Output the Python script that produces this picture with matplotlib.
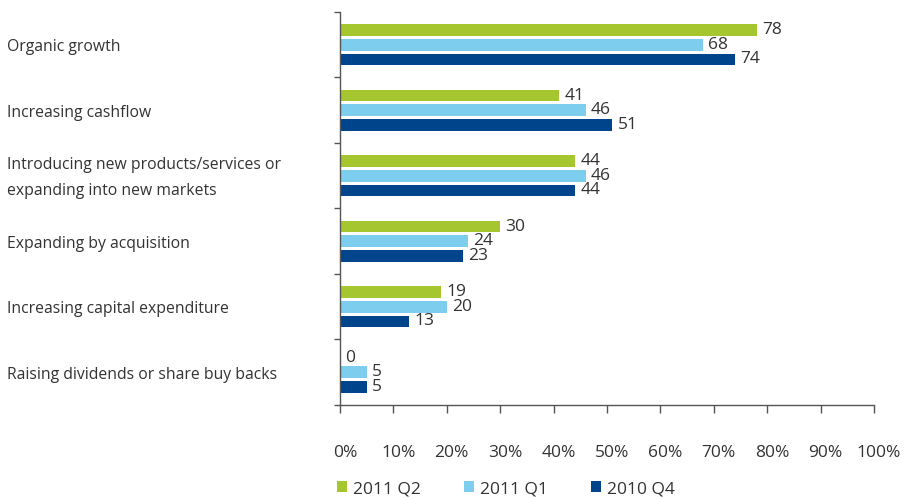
import numpy as np
import matplotlib.pyplot as plt
import matplotlib.transforms as mtransforms
from matplotlib.patches import Patch

plt.rcParams['font.family'] = ['Open Sans', 'DejaVu Sans']

categories = [
    "Organic growth",
    "Increasing cashflow",
    "Introducing new products/services or\nexpanding into new markets",
    "Expanding by acquisition",
    "Increasing capital expenditure",
    "Raising dividends or share buy backs",
]
series_names = ["2011 Q2", "2011 Q1", "2010 Q4"]
q2_2011 = [78, 41, 44, 30, 19, 0]
q1_2011 = [68, 46, 46, 24, 20, 5]
q4_2010 = [74, 51, 44, 23, 13, 5]
colors = ["#A6C630", "#7DCDEF", "#00458B"]
text_color = "#333333"
axis_color = "#555555"

fig = plt.figure(figsize=(9.09, 4.98), dpi=100)
ax = fig.add_axes([340 / 909, 1 - 405 / 498, 534 / 909, 393 / 498])

y = np.arange(len(categories))
pitch = 0.222
height = 0.176
for i, (vals, col) in enumerate(zip([q2_2011, q1_2011, q4_2010], colors)):
    pos = y + (i - 1) * pitch
    ax.barh(pos, vals, height=height, color=col, edgecolor='none')
    for p, v in zip(pos, vals):
        ax.text(v + 1.0, p, str(v), va='center', ha='left',
                fontsize=12.5, color=text_color)

ax.set_xlim(0, 100)
ax.set_ylim(len(categories) - 0.5, -0.5)

ax.set_xticks(np.arange(0, 101, 10))
ax.set_xticklabels([f"{t}%" for t in range(0, 101, 10)])
ax.tick_params(axis='x', direction='out', length=6, width=1, color=axis_color,
               pad=23, labelsize=12.5, labelcolor=text_color)
shift = mtransforms.ScaledTranslation(5 / 100, 0, fig.dpi_scale_trans)
for lbl in ax.get_xticklabels():
    lbl.set_transform(lbl.get_transform() + shift)

# group separators on the y axis
ax.set_yticks(np.arange(-0.5, len(categories), 1.0))
ax.set_yticklabels([])
ax.tick_params(axis='y', direction='out', length=4, width=1, color=axis_color)

label_shift = mtransforms.ScaledTranslation(0, -2.5 / 100, fig.dpi_scale_trans)
for c, yy in zip(categories, y):
    ax.text(-333 / 534 * 100, yy, c, ha='left', va='center',
            fontsize=11.3, color=text_color, linespacing=1.8,
            transform=ax.transData + label_shift)

for s in ['top', 'right']:
    ax.spines[s].set_visible(False)
for s in ['left', 'bottom']:
    ax.spines[s].set_color(axis_color)
    ax.spines[s].set_linewidth(1)

handles = [Patch(facecolor=c, edgecolor='none') for c in colors]
fig.legend(handles, series_names, loc='center left',
           bbox_to_anchor=(337 / 909, 1 - 489 / 498),
           ncol=3, frameon=False, fontsize=12.5, handlelength=0.6, handleheight=0.6,
           handletextpad=0.35, columnspacing=2.45, borderpad=0, borderaxespad=0,
           labelcolor=text_color)

fig.savefig("out.png", dpi=100)
